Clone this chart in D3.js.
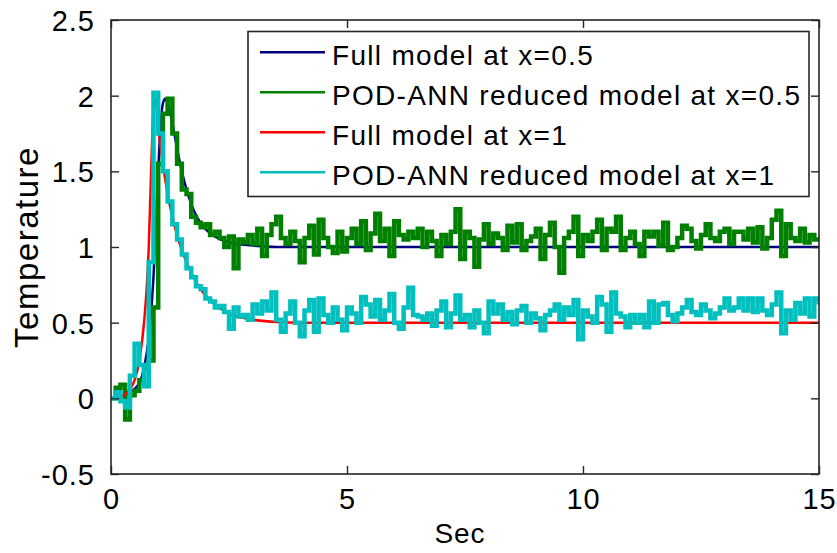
<!DOCTYPE html>
<html><head><meta charset="utf-8">
<script src="https://cdn.jsdelivr.net/npm/d3@7"></script>
<style>
html,body{margin:0;padding:0;background:#fff;}
text{font-family:"Liberation Sans",Arial,Helvetica,sans-serif;fill:#000;}
</style></head>
<body><svg id="chart" width="837" height="553"></svg>
<script>
// ---------------- data ----------------
const seriesNames = ["Full model at x=0.5","POD-ANN reduced model at x=0.5","Full model at x=1","POD-ANN reduced model at x=1"];
const xTicks = [0,5,10,15];
const yTicks = [-0.5,0,0.5,1,1.5,2,2.5];
const xLabel = "Sec";
const yLabel = "Temperature";

// Full model at x=0.5
const fullHalfT = [0,0.2,0.4,0.6,0.7,0.8,0.9,0.95,1.0,1.05,1.1,1.15,1.2,1.3,1.4,1.5,1.6,1.8,2.0,2.2,2.5,3.0,3.5,4,15];
const fullHalfV = [0,0.01,0.04,0.1,0.2,0.4,0.8,1.15,1.5,1.8,1.95,1.98,1.95,1.82,1.65,1.5,1.38,1.21,1.12,1.07,1.03,1.01,1.0,1.0,1.0];
// Full model at x=1
const fullOneT = [0,0.2,0.4,0.5,0.6,0.7,0.8,0.85,0.9,0.95,1.0,1.1,1.2,1.3,1.4,1.5,1.6,1.8,2.0,2.2,2.5,3.0,3.5,4,15];
const fullOneV = [0,0.01,0.06,0.12,0.25,0.5,1.0,1.5,1.9,1.98,1.8,1.55,1.35,1.2,1.08,0.98,0.9,0.77,0.68,0.62,0.56,0.52,0.505,0.5,0.5];

// POD-ANN reduced models, sampled every 0.1 s from 0 to 15 s
const sampleStep = 0.1;
const podHalfV = [
 0.0,0.07,0.09,-0.14,0.02,0.05,0.12,0.2,0.25,0.6,
 1.55,1.88,1.98,1.75,1.55,1.38,1.35,1.2,1.16,1.13,
 1.15,1.08,1.1,1.06,1.0,1.07,0.86,1.05,1.03,1.08,
 1.02,1.12,0.94,1.08,1.15,1.2,1.06,1.02,1.1,1.04,
 0.9,1.06,1.14,0.95,1.18,1.06,1.0,0.96,1.1,0.97,
 1.06,1.12,1.02,1.17,0.98,1.09,1.22,1.04,1.12,0.94,
 1.17,1.08,1.05,1.1,1.06,1.12,1.0,1.1,1.04,0.94,
 1.08,1.02,1.1,1.25,0.92,1.1,1.06,0.87,1.05,1.15,
 1.02,1.09,1.06,0.98,1.14,1.03,1.15,0.98,1.04,1.07,
 1.12,0.92,1.08,1.16,1.0,0.83,1.06,1.1,1.2,0.94,
 1.08,1.04,1.1,1.18,0.98,1.12,1.1,1.2,0.98,1.06,
 1.1,1.02,0.94,1.1,1.07,1.1,1.01,1.16,0.98,1.0,
 1.06,1.14,1.12,1.04,0.99,1.08,1.15,1.06,1.04,1.1,
 1.12,1.02,1.1,1.1,1.05,1.12,1.03,1.13,0.99,1.06,
 1.18,1.24,0.94,1.15,1.06,1.04,1.12,1.03,1.08,1.05,
 1.06];
const podOneV = [
 0.0,0.04,-0.02,-0.06,0.15,0.36,0.22,0.08,0.9,2.02,
 1.75,1.5,1.3,1.15,1.05,0.95,0.86,0.8,0.74,0.72,
 0.66,0.64,0.6,0.61,0.57,0.46,0.6,0.54,0.55,0.52,
 0.62,0.56,0.64,0.58,0.7,0.52,0.44,0.56,0.64,0.5,
 0.41,0.58,0.65,0.44,0.66,0.55,0.5,0.6,0.52,0.45,
 0.6,0.56,0.5,0.67,0.62,0.54,0.65,0.52,0.58,0.69,
 0.5,0.46,0.6,0.73,0.55,0.54,0.52,0.56,0.48,0.58,
 0.64,0.47,0.56,0.68,0.52,0.55,0.47,0.58,0.5,0.43,
 0.64,0.56,0.62,0.52,0.57,0.49,0.58,0.61,0.5,0.56,
 0.53,0.45,0.55,0.58,0.62,0.52,0.6,0.55,0.65,0.39,
 0.58,0.54,0.5,0.67,0.62,0.44,0.7,0.56,0.54,0.47,
 0.55,0.5,0.55,0.47,0.64,0.5,0.62,0.63,0.55,0.51,
 0.56,0.6,0.65,0.57,0.55,0.62,0.58,0.53,0.56,0.6,
 0.66,0.58,0.6,0.66,0.58,0.66,0.57,0.66,0.58,0.55,
 0.62,0.7,0.43,0.58,0.52,0.63,0.56,0.66,0.54,0.66,
 0.62];

const colors = ["#00007f","#008000","#ff0000","#00bfbf"];

// ---------------- layout ----------------
const svg = d3.select("#chart");
const L = 111, R = 819, T = 20, B = 474;
const x = d3.scaleLinear().domain([0,15]).range([L,R]);
const y = d3.scaleLinear().domain([-0.5,2.5]).range([B,T]);
const FS = 29;

svg.append("defs").append("clipPath").attr("id","clip")
  .append("rect").attr("x",L).attr("y",T).attr("width",R-L).attr("height",B-T);

const pts = (ts,vs)=>ts.map((t,i)=>[t,vs[i]]);
const podT = d3.range(podHalfV.length).map(i=>+(i*sampleStep).toFixed(2));

const smooth = d3.line().x(d=>x(d[0])).y(d=>y(d[1])).curve(d3.curveMonotoneX);
const stepL = d3.line().x(d=>x(d[0])).y(d=>y(d[1])).curve(d3.curveStepAfter);

const g = svg.append("g").attr("clip-path","url(#clip)");
const lines = [
  {d:pts(fullHalfT,fullHalfV), gen:smooth, c:colors[0], w:2.5},
  {d:pts(podT,podHalfV), gen:stepL, c:colors[1], w:4.5},
  {d:pts(fullOneT,fullOneV), gen:smooth, c:colors[2], w:2.5},
  {d:pts(podT,podOneV), gen:stepL, c:colors[3], w:4.5}
];
lines.forEach(s=>{
  g.append("path").attr("d",s.gen(s.d)).attr("fill","none")
   .attr("stroke",s.c).attr("stroke-width",s.w).attr("stroke-linejoin","miter");
});

// ---------------- axes (box with inward ticks) ----------------
svg.append("rect").attr("x",L).attr("y",T).attr("width",R-L).attr("height",B-T)
  .attr("fill","none").attr("stroke","#262626").attr("stroke-width",1.6);

const axB = svg.append("g").attr("transform",`translate(0,${B})`)
  .call(d3.axisBottom(x).tickValues(xTicks).tickSizeInner(-8).tickSizeOuter(0).tickPadding(14).tickFormat(d3.format("d")));
const axT = svg.append("g").attr("transform",`translate(0,${T})`)
  .call(d3.axisTop(x).tickValues(xTicks).tickSizeInner(-8).tickSizeOuter(0).tickFormat(""));
const axL = svg.append("g").attr("transform",`translate(${L},0)`)
  .call(d3.axisLeft(y).tickValues(yTicks).tickSizeInner(-8).tickSizeOuter(0).tickPadding(16).tickFormat(d=>String(d)));
const axR = svg.append("g").attr("transform",`translate(${R},0)`)
  .call(d3.axisRight(y).tickValues(yTicks).tickSizeInner(-8).tickSizeOuter(0).tickFormat(""));
[axB,axT,axL,axR].forEach(a=>{
  a.select(".domain").remove();
  a.selectAll(".tick line").attr("stroke","#262626").attr("stroke-width",1.4);
  a.selectAll("text").style("font-size",FS+"px").style("letter-spacing","1px").attr("fill","#000");
});
axB.selectAll("text").attr("dy","0.71em");
axL.selectAll("text").attr("dy","0.36em");

svg.append("text").attr("x",460).attr("y",543).attr("text-anchor","middle")
  .style("font-size","28px").style("letter-spacing","1px").text(xLabel);
svg.append("text").attr("transform","translate(38,247) rotate(-90)").attr("text-anchor","middle")
  .style("font-size","33px").style("letter-spacing","1.5px").text(yLabel);

// ---------------- legend ----------------
const lg = svg.append("g");
lg.append("rect").attr("x",248).attr("y",31.5).attr("width",561).attr("height",165)
  .attr("fill","#fff").attr("stroke","#262626").attr("stroke-width",1.6);
seriesNames.forEach((n,i)=>{
  const yy = 52.3 + i*40;
  lg.append("line").attr("x1",260).attr("x2",325).attr("y1",yy).attr("y2",yy)
    .attr("stroke",colors[i]).attr("stroke-width",2.5);
  lg.append("text").attr("x",332).attr("y",yy+12.5).style("font-size","28px")
    .style("letter-spacing","1.3px").text(n);
});
</script></body></html>
